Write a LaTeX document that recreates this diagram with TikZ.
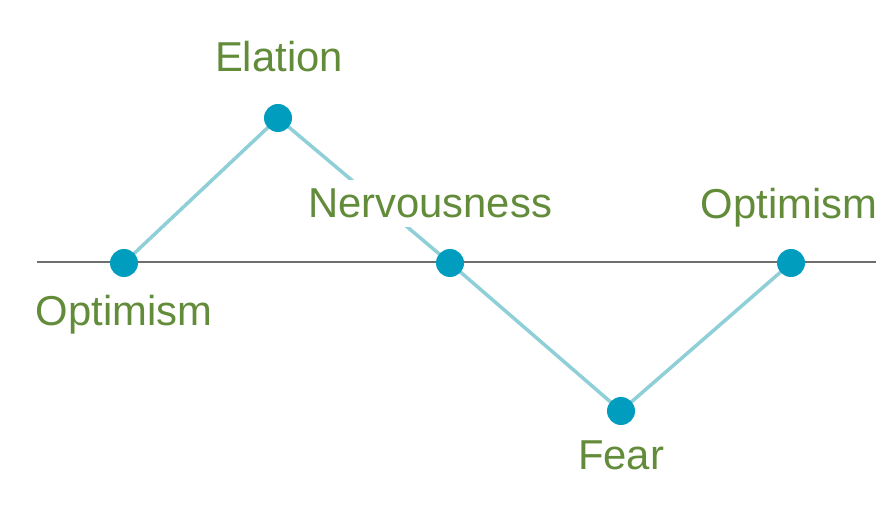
\documentclass[tikz,border=0pt]{standalone}
\usepackage{fontspec}
\setmainfont{Liberation Sans}
\definecolor{dotc}{RGB}{0,157,190}
\definecolor{linec}{RGB}{142,207,216}
\definecolor{txtc}{RGB}{98,140,58}
\definecolor{axisc}{RGB}{110,110,110}
\tikzset{
  pt/.style={circle, fill=dotc, minimum size=28pt, inner sep=0pt},
  lbl/.style={text=txtc, font=\fontsize{41.8}{48}\selectfont, anchor=base, inner sep=0pt},
  conn/.style={draw=linec, line width=3.5pt},
}
\begin{document}
\begin{tikzpicture}[x=1pt,y=-1pt]
\useasboundingbox (0,0) rectangle (892,521);
\fill[white] (0,0) rectangle (892,521);
\coordinate (axL) at (37,262);
\coordinate (axR) at (876,262);
\draw[axisc, line width=2pt] (axL) -- (axR);
\coordinate (p1) at (124,263);
\coordinate (p2) at (278,118);
\coordinate (p3) at (450,263);
\coordinate (p4) at (621,411);
\coordinate (p5) at (791,263);
\draw[conn] (p1) -- (p2) -- (p3) -- (p4) -- (p5);
\node[lbl, fill=white, text depth=9pt, text height=38pt, inner xsep=2pt] (nerv) at (430,218) {Nervousness};
\node[pt] (d1) at (p1) {};
\node[pt] (d2) at (p2) {};
\node[pt] (d3) at (p3) {};
\node[pt] (d4) at (p4) {};
\node[pt] (d5) at (p5) {};
\node[lbl] (elat) at (279,72) {Elation};
\node[lbl] (opt1) at (124,326) {Optimism};
\node[lbl] (fear) at (621,469) {Fear};
\node[lbl] (opt2) at (789,219) {Optimism};
\end{tikzpicture}
\end{document}
